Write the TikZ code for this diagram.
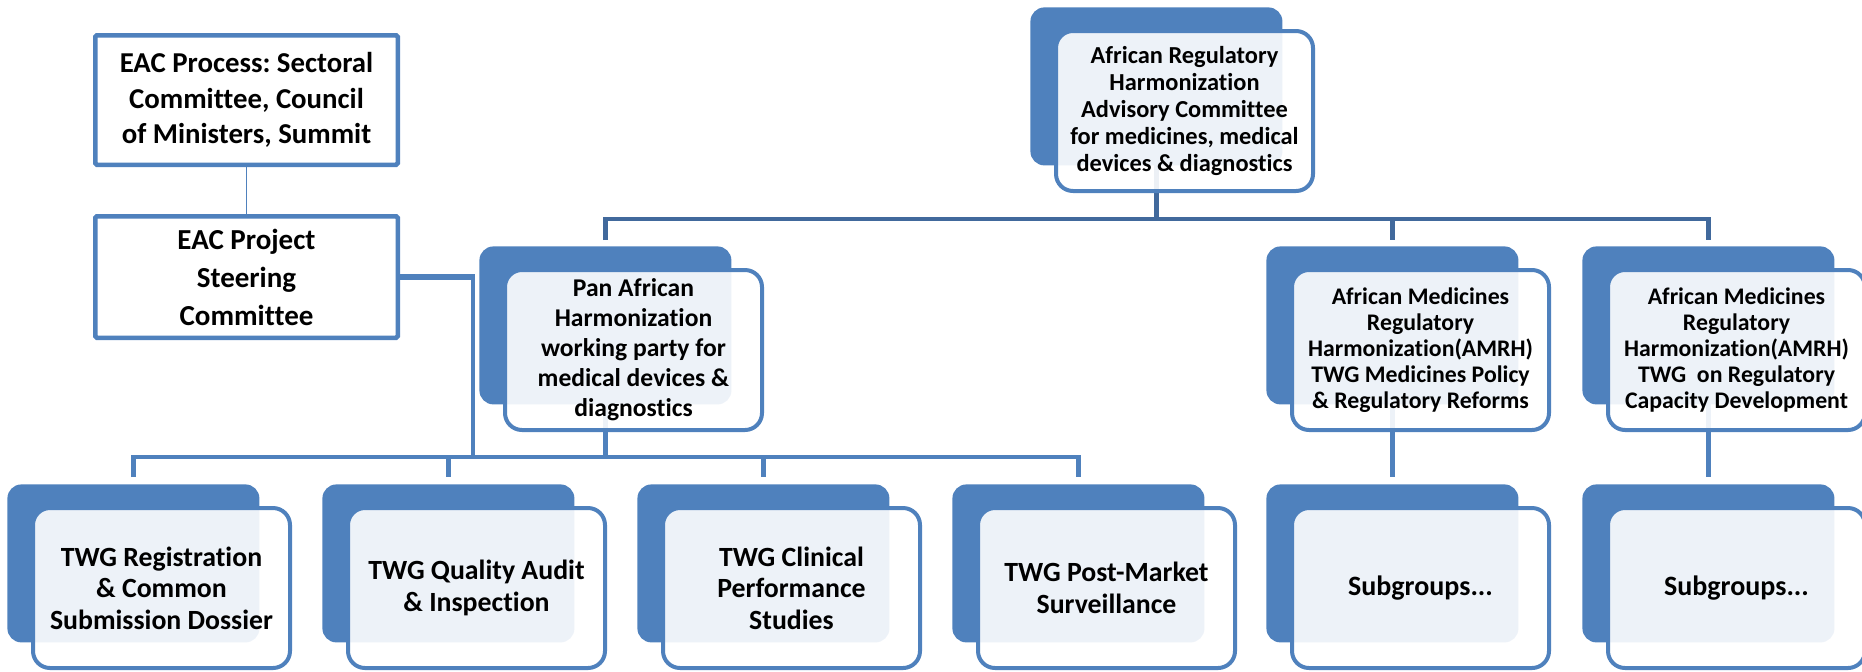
\documentclass[tikz,border=0pt]{standalone}
\usepackage{fontspec}
\setmainfont[Ligatures={NoCommon}]{Carlito}
\frenchspacing
\usetikzlibrary{backgrounds}
\definecolor{accent}{HTML}{4F81BD}
\definecolor{darkline}{HTML}{41699C}
\tikzset{
  backbox/.style={rectangle, rounded corners=7pt, fill=accent, minimum width=126pt, minimum height=79pt, anchor=north west, inner sep=0pt},
  frontbox/.style={rectangle, rounded corners=8.5pt, draw=accent, line width=2pt, fill=white, fill opacity=0.9, text opacity=1, draw opacity=1, minimum width=128.5pt, minimum height=80pt, align=center, inner sep=0pt, text=black},
  eacbox/.style={rectangle, rounded corners=0.8pt, draw=accent, line width=2.25pt, fill=white, minimum width=151.25pt, align=center, inner sep=0pt, text=black},
  conn/.style={draw=accent, line width=2.4pt},
  topconn/.style={draw=darkline, line width=2.4pt},
  farh/.style={font=\fontsize{12.2pt}{13.4pt}\selectfont\bfseries},
  famrh/.style={font=\fontsize{11.9pt}{13pt}\selectfont\bfseries},
  fmid/.style={font=\fontsize{12.8pt}{15pt}\selectfont\bfseries},
  ftwg/.style={font=\fontsize{13.9pt}{15.8pt}\selectfont\bfseries},
  fsub/.style={font=\fontsize{14pt}{17pt}\selectfont\bfseries},
}
\newcommand\boxpair[5]{%
  \node[backbox] (b#1) at (#2,#3) {};
  \node[frontbox,#4] (f#1) at ([shift={(154.5,104)}]b#1.north west) {#5};
}
\begin{document}
\begin{tikzpicture}[x=0.5pt,y=-0.5pt]
\useasboundingbox (0,0) rectangle (1862,671);
\clip (0,0) rectangle (1862,671);

% EAC boxes
\node[eacbox, minimum height=64.75pt, font=\fontsize{14.4pt}{17.8pt}\selectfont\bfseries] (eac) at (246.5,100)
  {EAC Process: Sectoral\\Committee, Council\\of Ministers, Summit};
\node[eacbox, minimum height=60.75pt, font=\fontsize{14.5pt}{19pt}\selectfont\bfseries] (steer) at (246.5,277)
  {EAC Project\\Steering\\Committee};

% hierarchy boxes
\boxpair{ARH}{1030}{7}{farh}{African Regulatory\\Harmonization\\Advisory Committee\\for medicines, medical\\devices \& diagnostics}
\boxpair{Pan}{479}{246}{fmid}{Pan African\\Harmonization\\working party for\\medical devices \&\\diagnostics}
\boxpair{AMa}{1266}{246}{famrh}{African Medicines\\Regulatory\\Harmonization(AMRH)\\TWG Medicines Policy\\\& Regulatory Reforms}
\boxpair{AMb}{1582}{246}{famrh}{African Medicines\\Regulatory\\Harmonization(AMRH)\\TWG\ \ on Regulatory\\Capacity Development}
\boxpair{Ta}{7}{484}{ftwg}{TWG Registration\\\& Common\\Submission Dossier}
\boxpair{Tb}{322}{484}{ftwg}{TWG Quality Audit\\\& Inspection}
\boxpair{Tc}{637}{484}{ftwg}{TWG Clinical\\Performance\\Studies}
\boxpair{Td}{952}{484}{ftwg}{TWG Post-Market\\Surveillance}
\boxpair{Sa}{1266}{484}{fsub}{Subgroups...}
\boxpair{Sb}{1582}{484}{fsub}{Subgroups...}

\coordinate (topbus) at (0,219);
\coordinate (botbus) at (0,457);
\coordinate (sj) at (473,277);

\begin{pgfonlayer}{background}
  % EAC chain
  \draw[draw=accent, line width=0.8pt] (eac.south) -- (steer.north);
  \draw[conn, line width=3pt] (steer.east) -- (sj);
  \draw[conn] ([yshift=1.5pt]sj) -- (sj |- botbus);
  % top tree
  \draw[topconn] (bARH.center) -- (bARH.center |- topbus);
  \draw[topconn] ([yshift=3pt]bPan.north) -- (bPan.north |- topbus) -- (bAMb.north |- topbus) -- ([yshift=3pt]bAMb.north);
  \draw[topconn] (bAMa.north |- topbus) -- ([yshift=3pt]bAMa.north);
  % bottom bus
  \draw[conn] (bPan.center) -- (bPan.center |- botbus);
  \draw[conn] ([yshift=3.5pt]bTa.north) -- (bTa.north |- botbus) -- (bTd.north |- botbus) -- ([yshift=3.5pt]bTd.north);
  \draw[conn] (bTb.north |- botbus) -- ([yshift=3.5pt]bTb.north);
  \draw[conn] (bTc.north |- botbus) -- ([yshift=3.5pt]bTc.north);
  % AMRH to subgroups
  \draw[conn] (bAMa.center) -- ([yshift=3.5pt]bSa.north);
  \draw[conn] (bAMb.center) -- ([yshift=3.5pt]bSb.north);
\end{pgfonlayer}
\end{tikzpicture}
\end{document}
